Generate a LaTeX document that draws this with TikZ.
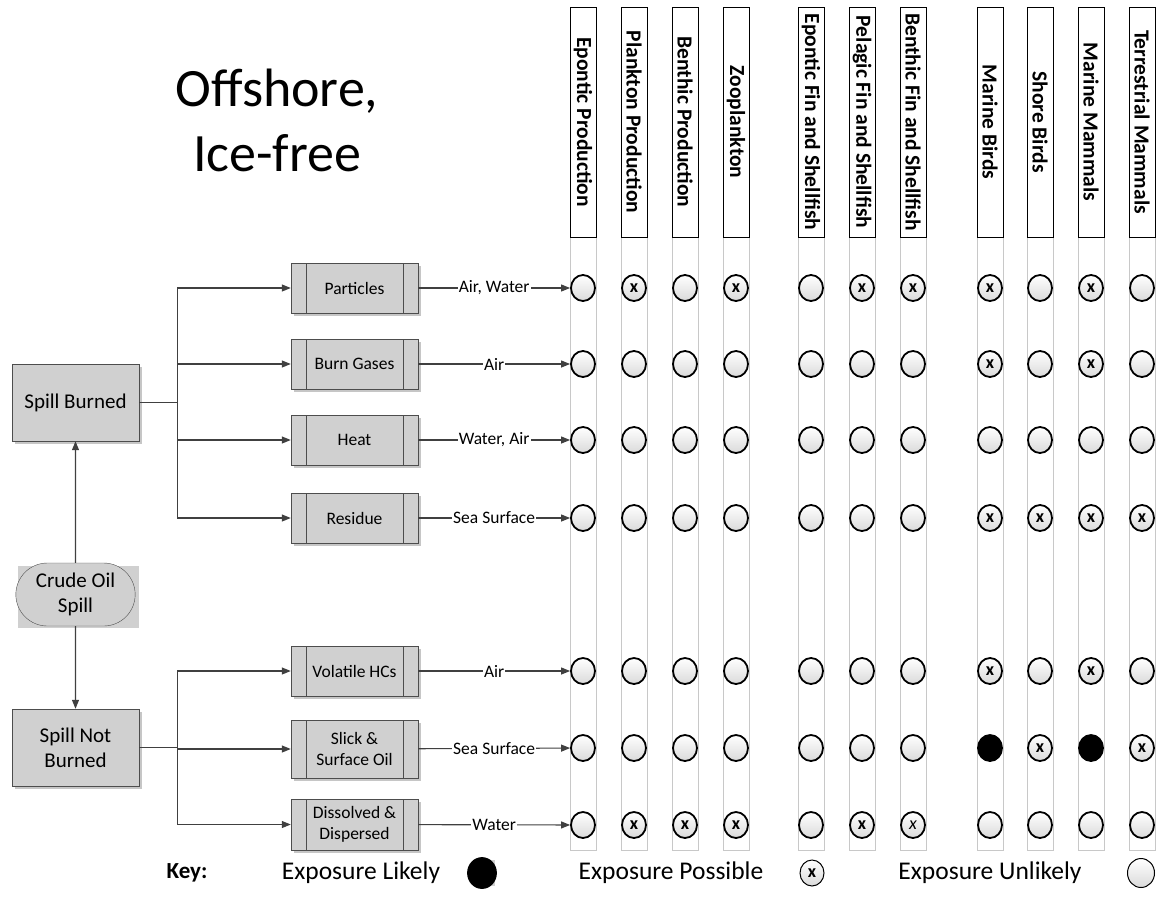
\documentclass[tikz,border=0pt]{standalone}
\usepackage{fontspec}
\setmainfont{Carlito}
\usepackage{tikz}
\usetikzlibrary{positioning,arrows.meta,calc,shapes.geometric,shapes.misc,shadows,backgrounds}
\definecolor{spillGray}{HTML}{D0D0D0}
\definecolor{spillShade}{HTML}{C6C6C6}
\definecolor{spillEdge}{HTML}{4D4D4D}
\definecolor{spillLine}{HTML}{404040}
\definecolor{laneGray}{HTML}{C8C8C8}
\definecolor{dotBottom}{HTML}{DADADA}
\tikzset{
  stagebox/.style={draw=spillEdge,fill=spillGray,minimum width=127pt,minimum height=77pt,
    align=center,font=\fontsize{21}{25}\selectfont,
    general shadow={fill=spillShade,shadow xshift=3pt,shadow yshift=-3pt}},
  spillbox/.style={rounded rectangle,draw=spillEdge,fill=spillGray,minimum width=126pt,
    minimum height=63pt,align=center,font=\fontsize{21}{25}\selectfont},
  procbox/.style={draw=spillEdge,fill=spillGray,minimum width=127pt,minimum height=50pt,
    align=center,inner xsep=2pt,font=\fontsize{17.5}{21.5}\selectfont,
    general shadow={fill=spillShade,shadow xshift=3pt,shadow yshift=-3pt},
    path picture={\draw[spillEdge]
      ([xshift=15pt]path picture bounding box.north west) -- ([xshift=15pt]path picture bounding box.south west)
      ([xshift=-15pt]path picture bounding box.north east) -- ([xshift=-15pt]path picture bounding box.south east);}},
  headbox/.style={draw=black,fill=white,rotate=-90,minimum width=230pt,minimum height=26pt,
    inner sep=0pt,font=\bfseries\fontsize{21.5}{24}\selectfont},
  lane/.style={draw=laneGray,line width=0.6pt},
  flow/.style={draw=spillLine,line width=1.1pt,-{Triangle[length=9pt,width=7pt]}},
  medium/.style={fill=white,inner sep=1pt,font=\fontsize{17.5}{21}\selectfont},
  expbase/.style={ellipse,draw=black,line width=1.8pt,minimum width=24pt,minimum height=26pt,inner sep=0pt},
  expo/.style={expbase,top color=white,bottom color=dotBottom},
  expx/.style={expo,label={[font=\bfseries\fontsize{18}{18}\selectfont,inner sep=0pt]center:x}},
  expi/.style={expo,label={[font=\itshape\fontsize{18}{18}\selectfont,inner sep=0pt]center:x}},
  expf/.style={expbase,fill=black},
  keytext/.style={font=\fontsize{25.5}{28}\selectfont},
  titletext/.style={align=center,font=\fontsize{54}{65}\selectfont}
}

\begin{document}
\begin{tikzpicture}[x=1pt,y=-1pt]
  \useasboundingbox (0,0) rectangle (1163,919);
  \node[titletext] (title) at (277,120) {Offshore,\\Ice-free};
  % receptor columns
  \foreach \x/\name [count=\c] in {583/Epontic Production,634/Plankton Production,
      685/Benthic Production,736/Zooplankton,811/Epontic Fin and Shellfish,
      862/Pelagic Fin and Shellfish,913/Benthic Fin and Shellfish,990/Marine Birds,
      1040/Shore Birds,1091/Marine Mammals,1142/Terrestrial Mammals}{
    \draw[lane] (\x-13,237) rectangle (\x+13,850);
    \node[headbox] (col\c) at (\x,122) {\name};
  }
  % spill fate
  \node[stagebox] (burned) at (75.5,402.5) {Spill Burned};
  \node[spillbox] (crude) at (75.5,594.5) {Crude Oil\\Spill};
  \node[stagebox] (notburned) at (75.5,747.5) {Spill Not\\Burned};
  \begin{scope}[on background layer]
    \fill[spillGray] ($(crude.west |- crude.north)+(2,3)$) rectangle ($(crude.east |- crude.south)+(4,2)$);
  \end{scope}
  \draw[flow] (crude) -- (burned);
  \draw[flow] (crude) -- (notburned);
  % pathways
  \node[procbox] (particles) at (354.5,288) {Particles};
  \node[procbox] (gases) at (354.5,364) {Burn Gases};
  \node[procbox] (heat) at (354.5,440) {Heat};
  \node[procbox] (residue) at (354.5,518) {Residue};
  \node[procbox] (volatile) at (354.5,671) {Volatile HCs};
  \node[procbox,minimum height=58pt] (slick) at (354.5,749) {Slick \&\\Surface Oil};
  \node[procbox,minimum height=51pt] (dissolved) at (354.5,824.5) {Dissolved \&\\Dispersed};
  \foreach \src in {particles,gases,heat,residue}
    \draw[flow] (burned.east) -- ++(38,0) |- (\src);
  \foreach \src in {volatile,slick,dissolved}
    \draw[flow] (notburned.east) -- ++(38,0) |- (\src);
  % exposure grid
  \def\colx{{583,634,685,736,811,862,913,990,1040,1091,1142}}
  \foreach \y/\r/\states in {288/1/{o,x,o,x,o,x,x,x,o,x,o},364/2/{o,o,o,o,o,o,o,x,o,x,o},
      440/3/{o,o,o,o,o,o,o,o,o,o,o},518/4/{o,o,o,o,o,o,o,x,x,x,x},
      671/5/{o,o,o,o,o,o,o,x,o,x,o},748/6/{o,o,o,o,o,o,o,f,x,f,x},
      825/7/{o,x,x,x,o,x,i,o,o,o,o}}{
    \foreach \s [count=\c] in \states {
      \pgfmathsetmacro{\x}{\colx[\c-1]}
      \node[exp\s] (d\r-\c) at (\x,\y) {};
    }
  }
  \foreach \src/\r/\via in {particles/1/{Air, Water},gases/2/Air,heat/3/{Water, Air},
      residue/4/Sea Surface,volatile/5/Air,slick/6/Sea Surface,dissolved/7/Water}
    \draw[flow] (\src) -- node[medium]{\via} (d\r-1);
  % key
  \node[keytext,font=\bfseries\fontsize{23}{26}\selectfont] (key) at (187,873) {Key:};
  \node[keytext] (klikelytext) at (361,873) {Exposure Likely};
  \node[expf,minimum width=28pt,minimum height=30pt] (klikely) at (482,873) {};
  \begin{scope}[on background layer]
    \fill[spillGray] ($(klikely.north)+(0,3)$) rectangle ($(klikely.south east)+(2,2)$);
  \end{scope}
  \node[keytext] (kpossibletext) at (671,873) {Exposure Possible};
  \node[expx,line width=1pt] (kpossible) at (812,873) {};
  \node[keytext] (kunlikelytext) at (990,873) {Exposure Unlikely};
  \node[expo,line width=1pt,minimum width=27pt,minimum height=29pt] (kunlikely) at (1141,873) {};
\end{tikzpicture}
\end{document}
